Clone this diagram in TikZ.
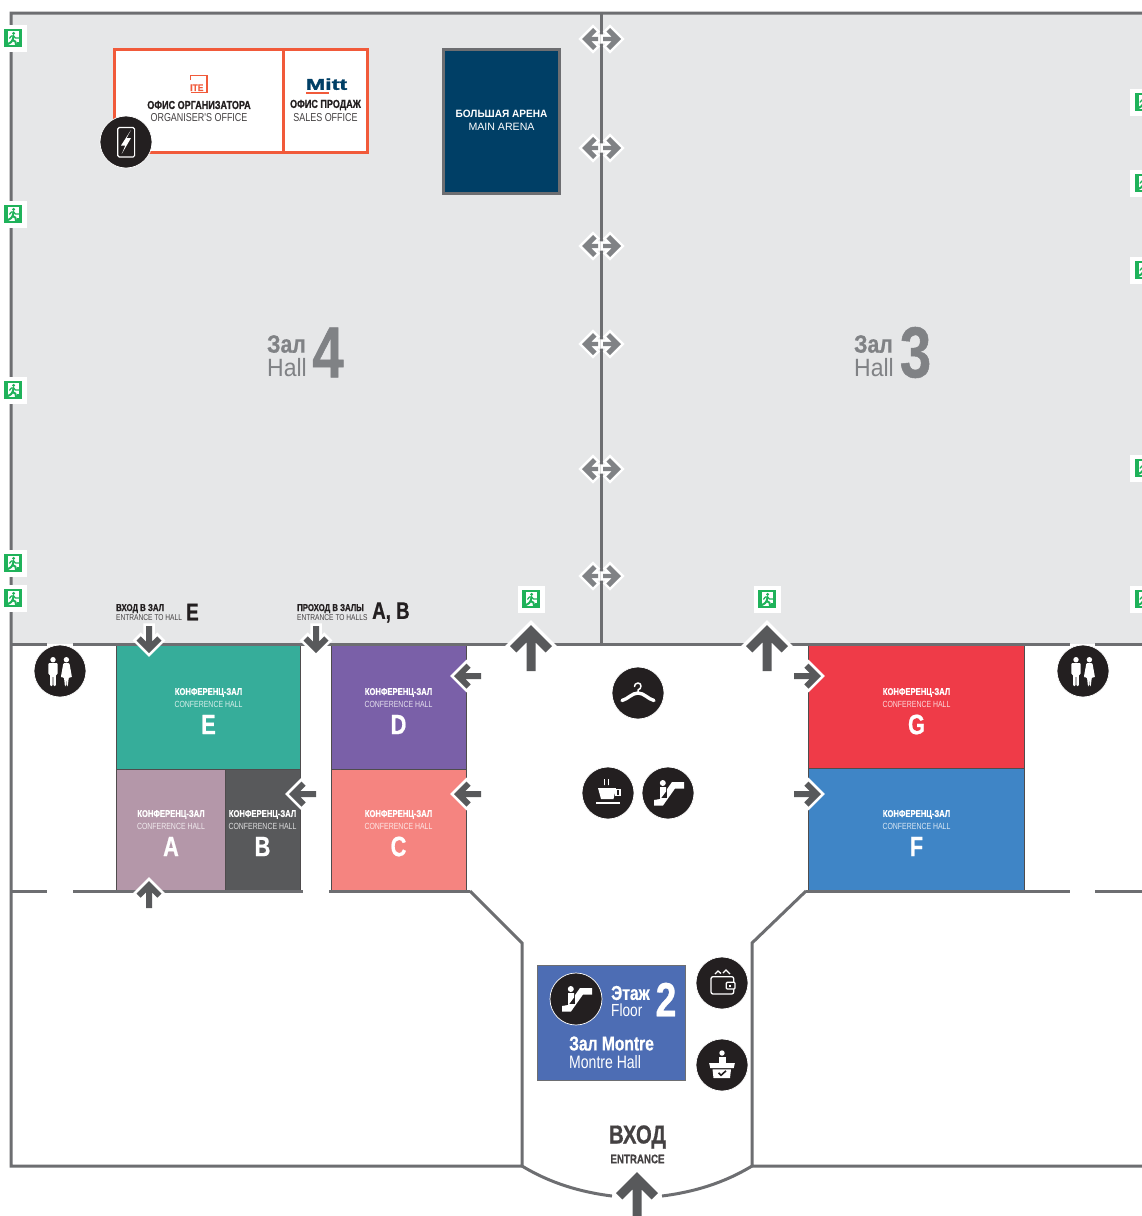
\documentclass[tikz,border=0pt]{standalone}
\usepackage{fontspec}
\setmainfont{Liberation Sans}
\newfontfamily\cnd[FakeStretch=0.78,BoldFeatures={FakeBold=0.7}]{Liberation Sans}
\newfontfamily\heavy[BoldFeatures={FakeBold=1.6}]{Liberation Sans}
\usetikzlibrary{calc}
\definecolor{wall}{HTML}{6D6E71}
\definecolor{hall}{HTML}{E6E7E8}
\definecolor{darrow}{HTML}{58595B}
\definecolor{garrow}{HTML}{808285}
\definecolor{ink}{HTML}{231F20}
\definecolor{exitg}{HTML}{1FB25A}
\definecolor{orng}{HTML}{F15A3A}
\definecolor{navy}{HTML}{003F66}
\tikzset{
  wallline/.style={draw=wall,line width=3pt},
  room/.style={draw=ink!80,line width=1pt},
  iconbg/.style={circle,fill=ink,draw=white,line width=.7pt,minimum size=52pt,inner sep=0pt},
  lbl/.style={inner sep=0pt,align=center},
  cbold/.style={lbl,text=white,font=\cnd\bfseries\fontsize{9.8}{10}\selectfont},
  clight/.style={lbl,text=white,opacity=.8,font=\cnd\fontsize{8.9}{10}\selectfont},
  cletter/.style={lbl,text=white,font=\cnd\bfseries\fontsize{28}{28}\selectfont},
  hallbold/.style={lbl,text=garrow,font=\cnd\bfseries\fontsize{25}{25}\selectfont},
  halllight/.style={lbl,text=garrow,font=\cnd\fontsize{25}{25}\selectfont},
  hallnum/.style={lbl,text=garrow,font=\cnd\bfseries\fontsize{72}{72}\selectfont},
  ofbold/.style={lbl,text=ink,font=\cnd\bfseries\fontsize{11.6}{12}\selectfont},
  oflight/.style={lbl,text=ink!85,font=\cnd\fontsize{11.5}{12}\selectfont},
  smbold/.style={lbl,anchor=west,text=ink,font=\cnd\bfseries\fontsize{10}{9}\selectfont},
  smlight/.style={lbl,anchor=west,text=ink!85,font=\cnd\fontsize{8.5}{9}\selectfont},
  bigletter/.style={lbl,anchor=west,text=ink,font=\cnd\bfseries\fontsize{24}{24}\selectfont},
}
% arrow: tip at (#1,#2), rotation #3, shaft length #4, half head #5, arm #6, half shaft #7, colour #8, halo #9
\newcommand{\arrowmark}[9]{%
  \begin{scope}[shift={(#1,#2)},rotate=#3]
    \def\arrpath{(0,0)--(-#5,#5)--(-#5-#6,#5-#6)--(-#7-2*#6,#7)--(-#4,#7)--(-#4,-#7)--(-#7-2*#6,-#7)--(-#5-#6,-#5+#6)--(-#5,-#5)--cycle}
    \fill[white,draw=white,line width=#9pt,miter limit=10] \arrpath;
    \fill[#8] \arrpath;
  \end{scope}}
\newcommand{\bigarrow}[3]{\arrowmark{#1}{#2}{#3}{46}{21}{6.4}{4.5}{darrow}{7}}
\newcommand{\midarrow}[3]{\arrowmark{#1}{#2}{#3}{27}{12.5}{4.2}{3}{darrow}{5.5}}
\newcommand{\twoway}[1]{%
  \arrowmark{582}{#1}{180}{16}{11}{3.6}{2.2}{garrow}{5}
  \arrowmark{621}{#1}{0}{18}{11}{3.6}{2.2}{garrow}{5}}
\newcommand{\exitsign}[2]{%
  \begin{scope}[shift={(#1,#2)}]
    \fill[white] (-13.5,-13.5) rectangle (13.5,13.5);
    \fill[exitg] (-9,-9) rectangle (9,9);
    \fill[white] (-5,-7) rectangle (6,7);
    \fill[exitg] (0.6,-4.6) circle (1.6);
    \draw[exitg,line width=2pt,line cap=round,line join=round] (0.6,-2) -- (-0.4,2) -- (2.4,3.6) -- (3,6.6);
    \draw[exitg,line width=2pt,line cap=round,line join=round] (-0.4,2) -- (-2,4.2) -- (-5,6);
    \draw[exitg,line width=1.3pt,line cap=round,line join=round] (-3.4,0.2) -- (-1.6,-2) -- (0.6,-2) -- (2.4,0) -- (6,0);
    \fill[exitg] (4,3.5) rectangle (6,7);
  \end{scope}}
\newcommand{\esc}[2]{%
  \begin{scope}[shift={(#1,#2)}]
    \fill[white] (16,-11) -- (16,-4.5) -- (7,-4.5) -- (-5,12.5) -- (-14,12.5) -- (-14,7) -- (-8,6) -- (4,-11) -- cycle;
    \fill[ink] (-9.5,-7) rectangle (-1,4.5);
    \fill[white] (-5.2,-10) circle (3);
    \fill[white] (-8,-6) -- (-2,-6) -- (-2,-1.5) -- (-8,6.5) -- cycle;
  \end{scope}}
\newcommand{\wcicon}[2]{%
  \begin{scope}[shift={(#1,#2)}]
    \fill[white] (-7,-11.3) circle (2.7) (6.4,-11.3) circle (2.7);
    \fill[white,rounded corners=1pt] (-11.6,-8) -- (-2.4,-8) -- (-2.4,3.6) -- (-4.2,3.6) -- (-4.2,15) -- (-6.6,15) -- (-6.6,5) -- (-7.4,5) -- (-7.4,15) -- (-9.8,15) -- (-9.8,3.6) -- (-11.6,3.6) -- cycle;
    \fill[white,rounded corners=1pt] (3.4,-8) -- (9.4,-8) -- (12,6.4) -- (8.8,6.4) -- (7.8,15) -- (6.8,15) -- (6.4,8) -- (5.9,15) -- (4.9,15) -- (4,6.4) -- (0.8,6.4) -- cycle;
  \end{scope}}
\begin{document}
\begin{tikzpicture}[x=1pt,y=-1pt]
\useasboundingbox (0,0) rectangle (1142,1216);
\clip (0,0) rectangle (1142,1216);
\fill[white] (0,0) rectangle (1142,1216);
% hall floor
\fill[hall] (11,13) rectangle (1142,644);
% rooms
\path[room,fill={rgb,255:red,54;green,173;blue,154}] (116.7,644) rectangle (300.6,769);
\path[room,fill={rgb,255:red,180;green,151;blue,169}] (116.7,769) rectangle (225,891);
\path[room,fill=darrow] (225,769) rectangle (300.6,891);
\path[room,fill={rgb,255:red,122;green,96;blue,168}] (331,644) rectangle (466.5,769);
\path[room,fill={rgb,255:red,245;green,132;blue,128}] (331,769) rectangle (466.5,891);
\path[room,fill={rgb,255:red,239;green,59;blue,72}] (808.6,644) rectangle (1024.6,768);
\path[room,fill={rgb,255:red,63;green,133;blue,198}] (808.6,768) rectangle (1024.6,891);
% walls
\draw[wallline,line join=miter] (1142,13) -- (11,13) -- (11,1166) -- (522,1166) -- (522,943) -- (470,891);
\draw[wallline] (601,13) -- (601,644);
\draw[wallline] (11,644) -- (47,644) (73,644) -- (1070,644) (1095,644) -- (1142,644);
\draw[wallline] (11,891) -- (47,891) (73,891) -- (303,891) (329,891) -- (470,891);
\draw[wallline] (806,891) -- (1070,891) (1095,891) -- (1142,891);
\draw[wallline,line join=miter] (806,891) -- (752,943) -- (752,1166) -- (1142,1166);
\draw[wallline] (522,1166) .. controls (550,1183) and (580,1192) .. (612,1196);
\draw[wallline] (752,1166) .. controls (724,1183) and (694,1192) .. (662,1196);
% two-way arrows
\twoway{39}\twoway{148}\twoway{246}\twoway{344}\twoway{469}\twoway{576}
% exit signs
\exitsign{13}{38}\exitsign{13}{214}\exitsign{13}{390}\exitsign{13}{563}\exitsign{13}{598}
\exitsign{531}{599}\exitsign{767}{599}
\exitsign{1143.5}{102}\exitsign{1143.5}{183}\exitsign{1143.5}{270}\exitsign{1143.5}{468}\exitsign{1143.5}{599}
% direction arrows
\bigarrow{531}{625}{90}\bigarrow{767}{625}{90}\bigarrow{637}{1172}{90}
\midarrow{149}{653}{-90}\midarrow{316}{653}{-90}\midarrow{149}{881}{90}
\midarrow{454}{676}{180}\midarrow{454}{794}{180}\midarrow{289}{794}{180}
\midarrow{821}{676}{0}\midarrow{821}{794}{0}
% offices
\path[draw=orng,line width=3pt,fill=white] (114.3,49.5) rectangle (283.5,152.5);
\path[draw=orng,line width=3pt,fill=white] (283.5,49.5) rectangle (367.6,152.5);
\path[draw=wall,line width=3pt,fill=navy] (443.8,49.8) rectangle (559.6,193.6);
% ITE logo
\draw[orng,line width=1.1pt] (190.5,80) -- (190.5,75.5) -- (207,75.5) -- (207,92.5) -- (190.5,92.5);
\node[lbl,anchor=west,text=orng,font=\cnd\bfseries\fontsize{9.5}{9}\selectfont] (itelogo) at (190,87.7) {\scalebox{1.15}[1]{ITE}};
% Mitt logo
\node[lbl,text=navy,font=\heavy\bfseries\fontsize{19}{19}\selectfont] (mittlogo) at (326.5,84.2) {\scalebox{1.22}[.82]{Mitt}};
\fill[orng] (306,91.7) rectangle (328.5,93.5);
% office text
\node[ofbold] (of1) at (199,105) {ОФИС ОРГАНИЗАТОРА};
\node[oflight] (of2) at (199,118) {ORGANISER'S OFFICE};
\node[ofbold] (of3) at (325.5,105) {ОФИС ПРОДАЖ};
\node[oflight] (of4) at (325.5,118) {SALES OFFICE};
\node[lbl,text=white,font=\bfseries\fontsize{10.6}{11}\selectfont] (ar1) at (501.5,113.5) {\scalebox{.95}[1]{БОЛЬШАЯ АРЕНА}};
\node[lbl,text=white,font=\fontsize{10.6}{11}\selectfont] (ar2) at (501.5,126.5) {MAIN ARENA};
% hall labels
\node[hallbold,anchor=west] (h4a) at (267,344) {\scalebox{1.09}[1]{Зал}};
\node[halllight,anchor=west] (h4b) at (267,367.5) {\scalebox{1.18}[1]{Hall}};
\node[hallnum] (h4n) at (328,352.5) {4};
\node[hallbold,anchor=west] (h3a) at (854,344) {\scalebox{1.09}[1]{Зал}};
\node[halllight,anchor=west] (h3b) at (854,367.5) {\scalebox{1.18}[1]{Hall}};
\node[hallnum] (h3n) at (915.5,352.5) {3};
% entrance labels
\node[smbold] (en1) at (116,608.5) {ВХОД В ЗАЛ};
\node[smlight] (en2) at (116,617.5) {ENTRANCE TO HALL};
\node[bigletter] (en3) at (186,612) {E};
\node[smbold] (en4) at (297,608.5) {ПРОХОД В ЗАЛЫ};
\node[smlight] (en5) at (297,617.5) {ENTRANCE TO HALLS};
\node[bigletter] (en6) at (372,612.5) {A, B};
% conference rooms
\foreach \nm/\cx/\cy/\lt in {e/208.5/692.5/E,d/398.5/692.5/D,g/916.5/692.5/G,a/171/814.5/A,b/262.5/814.5/B,c/398.5/814.5/C,f/916.5/814.5/F}{
  \node[cbold] (\nm1) at (\cx,\cy) {КОНФЕРЕНЦ-ЗАЛ};
  \node[clight] (\nm2) at (\cx,\cy+11.5) {CONFERENCE HALL};
  \node[cletter] (\nm3) at (\cx,\cy+32) {\lt};
}
% floor plate
\path[draw=wall,line width=.8pt,fill={rgb,255:red,77;green,109;blue,180}] (537,965) rectangle (685,1080);
\node[lbl,anchor=west,text=white,font=\cnd\bfseries\fontsize{20}{20}\selectfont] (fl1) at (611,993) {Этаж};
\node[lbl,anchor=west,text=white,font=\cnd\fontsize{17.5}{18}\selectfont] (fl2) at (611,1010) {Floor};
\node[lbl,text=white,font=\cnd\bfseries\fontsize{48}{48}\selectfont] (fl3) at (666,999.5) {2};
\node[lbl,anchor=west,text=white,font=\cnd\bfseries\fontsize{20}{20}\selectfont] (fl4) at (569,1043.5) {Зал Montre};
\node[lbl,anchor=west,text=white,font=\cnd\fontsize{18}{18}\selectfont] (fl5) at (569,1062) {Montre Hall};
\node[lbl,text=ink!85,font=\cnd\bfseries\fontsize{26}{26}\selectfont] (in1) at (637.5,1137) {ВХОД};
\node[lbl,text=ink!85,font=\cnd\bfseries\fontsize{12.5}{13}\selectfont] (in2) at (637.5,1159) {ENTRANCE};
% icons
\node[iconbg] (iphone) at (126,142) {};
\draw[white,line width=1.2pt,rounded corners=1.5pt] (117.8,127.5) rectangle (134.6,157);
\fill[white] (131,130) -- (121,145.5) -- (125.3,145.5) -- (121.7,154) -- (131,138) -- (126.7,138) -- cycle;
\node[iconbg] (iwc1) at (60,671) {};
\wcicon{60}{671}
\node[iconbg] (iwc2) at (1083,671) {};
\wcicon{1083}{671}
\node[iconbg] (ihang) at (638,693) {};
\draw[white,line width=3.4pt,line cap=round] (622,700.5) .. controls (628,699) and (632,693) .. (638,693) .. controls (644,693) and (648,699) .. (654,700.5);
\draw[white,line width=1.5pt,line cap=round] (638,693) -- (638,690) .. controls (641.8,689) and (642,683) .. (638,683) .. controls (635.5,683) and (634.5,685) .. (634.5,686.5);
\node[iconbg] (icup) at (608,793) {};
\begin{scope}[shift={(608,793)}]
  \fill[white] (-10,-5) -- (8,-5) -- (5.5,6) -- (-7,6) -- cycle;
  \draw[white,line width=1.2pt] (8,-3.2) rectangle (12,2.8);
  \fill[white] (-12.5,9) rectangle (12,11);
  \draw[white,line width=.9pt] (-3.5,-14) .. controls (-5,-12) and (-2,-11) .. (-3.5,-8) (0.5,-14) .. controls (-1,-12) and (2,-11) .. (0.5,-8);
\end{scope}
\node[iconbg] (iesc1) at (668,793) {};
\esc{668}{793}
\node[iconbg] (iesc2) at (576,999) {};
\esc{576}{999}
\node[iconbg] (iwal) at (722,983) {};
\begin{scope}[shift={(722,983)}]
  \draw[white,line width=1.3pt,rounded corners=2pt] (-11,-6.3) rectangle (11.7,11);
  \path[draw=white,line width=1.3pt,fill=ink,rounded corners=1pt] (4.3,-0.7) rectangle (13,6);
  \fill[white] (7,1.5) rectangle (9,3.7);
  \draw[white,line width=1.3pt] (-7,-9) -- (-4,-12) -- (-1,-9.5) (1,-10) -- (4,-13) -- (8,-9);
\end{scope}
\node[iconbg] (idesk) at (722,1065) {};
\begin{scope}[shift={(722,1065)}]
  \fill[white] (0,-12) circle (2.7);
  \fill[white] (-3.5,-8.5) rectangle (3.5,-2.5);
  \fill[white] (-12.9,-2) -- (12.9,-2) -- (11.7,3) -- (-11.7,3) -- cycle;
  \fill[white] (-9.5,4.3) -- (9,4.3) -- (8,13) -- (-8.5,13) -- cycle;
  \draw[ink,line width=1.6pt] (-3.5,7.8) -- (-1,10.3) -- (4,5.8);
\end{scope}
\end{tikzpicture}
\end{document}
